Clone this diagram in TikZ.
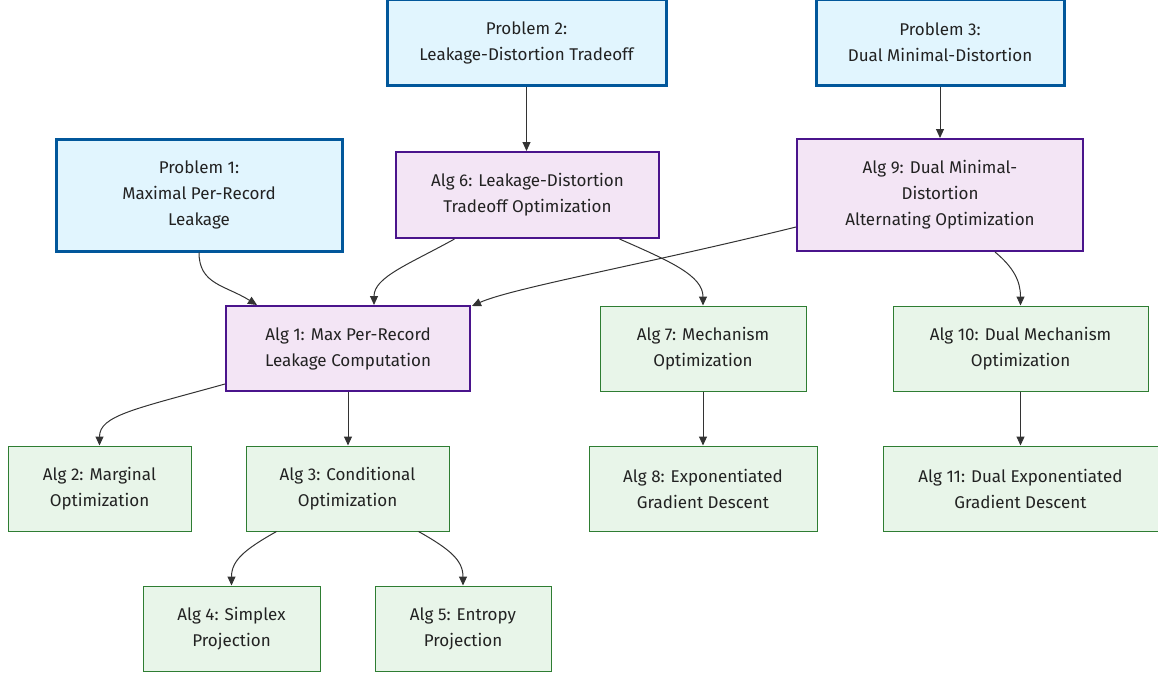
\documentclass[tikz,border=0pt]{standalone}
\usepackage{fontspec}
\setmainfont{Fira Sans}
\usetikzlibrary{arrows.meta,calc}
\definecolor{probfill}{HTML}{E1F5FE}
\definecolor{probdraw}{HTML}{01579B}
\definecolor{purpfill}{HTML}{F3E5F5}
\definecolor{purpdraw}{HTML}{4A148C}
\definecolor{grnfill}{HTML}{E8F5E9}
\definecolor{grndraw}{HTML}{2E7D32}
\definecolor{edgec}{HTML}{333333}
\definecolor{txt}{HTML}{222222}
\tikzset{
  base/.style={rectangle, inner sep=0pt, align=center, text=txt,
    font=\fontsize{17pt}{26pt}\selectfont},
  prob/.style={base, fill=probfill, draw=probdraw, line width=3pt},
  purp/.style={base, fill=purpfill, draw=purpdraw, line width=2pt},
  grn/.style={base, fill=grnfill, draw=grndraw, line width=1pt},
  conn/.style={draw=edgec, line width=1pt, -{Triangle[length=9pt,width=8pt]}}
}
\begin{document}
\begin{tikzpicture}[x=1pt,y=-1pt]
\useasboundingbox (0,0) rectangle (1158,677);
% problems
\node[prob, minimum width=279pt, minimum height=85pt] (p2) at (526.5,42.5) {Problem 2:\\Leakage-Distortion Tradeoff};
\node[prob, minimum width=248pt, minimum height=85pt] (p3) at (940,42.5) {Problem 3:\\Dual Minimal-Distortion};
\node[prob, minimum width=286pt, minimum height=112pt] (p1) at (199,195) {Problem 1:\\Maximal Per-Record\\Leakage};
% purple algorithms
\node[purp, minimum width=263pt, minimum height=86pt] (a6) at (527.5,195) {Alg 6: Leakage-Distortion\\Tradeoff Optimization};
\node[purp, minimum width=286pt, minimum height=112pt] (a9) at (940,195) {Alg 9: Dual Minimal-\\Distortion\\Alternating Optimization};
\node[purp, minimum width=244pt, minimum height=85pt] (a1) at (348,348.5) {Alg 1: Max Per-Record\\Leakage Computation};
% green algorithms
\node[grn, minimum width=206pt, minimum height=85pt] (a7) at (703,348.5) {Alg 7: Mechanism\\Optimization};
\node[grn, minimum width=255pt, minimum height=85pt] (a10) at (1020.5,348.5) {Alg 10: Dual Mechanism\\Optimization};
\node[grn, minimum width=183pt, minimum height=85pt] (a2) at (99.5,488.5) {Alg 2: Marginal\\Optimization};
\node[grn, minimum width=203pt, minimum height=85pt] (a3) at (347.5,488.5) {Alg 3: Conditional\\Optimization};
\node[grn, minimum width=228pt, minimum height=85pt] (a8) at (703,488.5) {Alg 8: Exponentiated\\Gradient Descent};
\node[grn, minimum width=275pt, minimum height=85pt] (a11) at (1020.5,488.5) {Alg 11: Dual Exponentiated\\Gradient Descent};
\node[grn, minimum width=177pt, minimum height=85pt] (a4) at (231.5,628.5) {Alg 4: Simplex\\Projection};
\node[grn, minimum width=176pt, minimum height=85pt] (a5) at (463,628.5) {Alg 5: Entropy\\Projection};
% connectors
\draw[conn] (p2.south) -- (p2.south |- a6.north);
\draw[conn] (p3.south) -- (p3.south |- a9.north);
\draw[conn] (p1.south) .. controls +(0,32) and +(-32,-20) .. ([xshift=32pt]a1.north west);
\draw[conn] ([xshift=-73pt]a6.south) .. controls +(-45,25) and +(0,-28) .. ([xshift=26pt]a1.north);
\draw[conn] ([yshift=-32pt]a9.west) .. controls +(-150,37) and +(40,-18) .. ([xshift=1pt,yshift=-1pt]a1.north east);
\draw[conn] ([xshift=92pt]a6.south) .. controls +(50,22) and +(0,-30) .. (a7.north);
\draw[conn] ([xshift=55pt]a9.south) .. controls +(18,15) and +(0,-25) .. (a10.north);
\draw[conn] ([yshift=8pt]a1.south west) .. controls +(-90,25) and +(0,-30) .. (a2.north);
\draw[conn] (a1.south) -- (a1.south |- a3.north);
\draw[conn] ([xshift=-71pt]a3.south) .. controls +(-32,18) and +(0,-25) .. (a4.north);
\draw[conn] ([xshift=71pt]a3.south) .. controls +(32,18) and +(0,-25) .. (a5.north);
\draw[conn] (a7.south) -- (a7.south |- a8.north);
\draw[conn] (a10.south) -- (a10.south |- a11.north);
\end{tikzpicture}
\end{document}
